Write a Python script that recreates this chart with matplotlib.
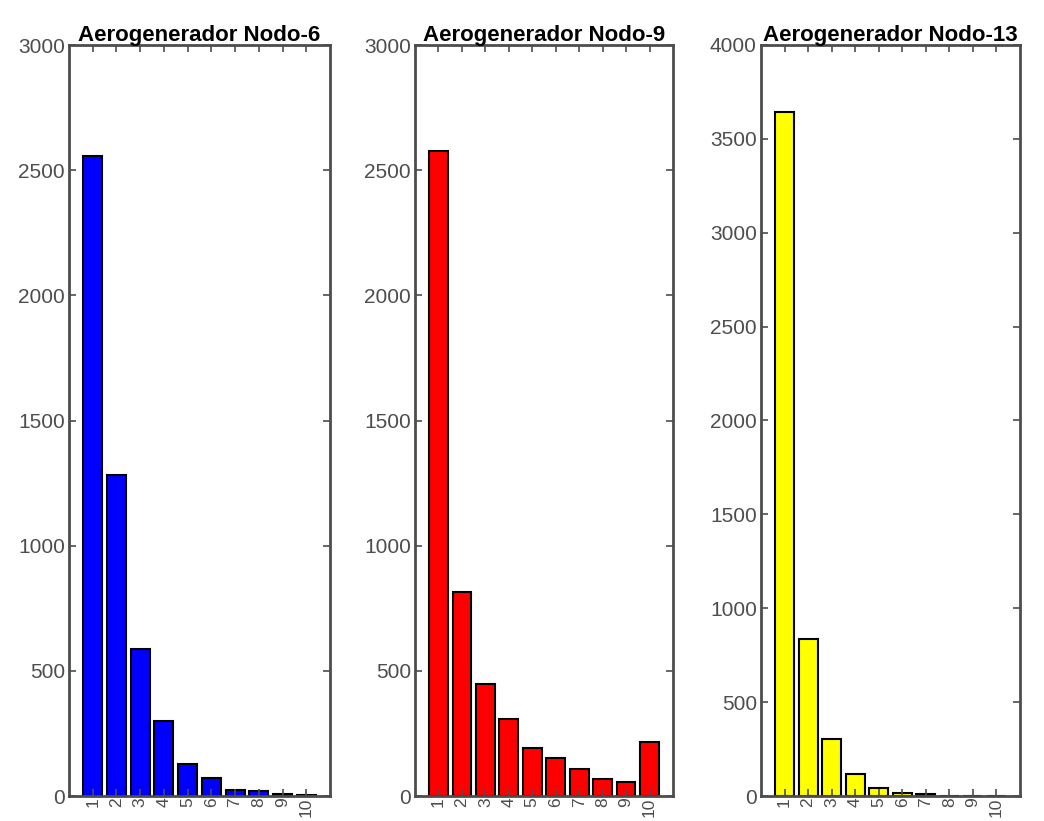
import numpy as np
import matplotlib.pyplot as plt

plt.rcParams['font.family'] = ['Liberation Sans', 'DejaVu Sans']

# valori
x = np.arange(1, 11)
nodo6 = [2556, 1284, 588, 300, 128, 72, 24, 18, 8, 2]
nodo9 = [2578, 816, 446, 306, 192, 152, 106, 68, 54, 214]
nodo13 = [3642, 836, 302, 116, 42, 16, 8, 2, 0, 0]

titoli = ['Aerogenerador Nodo-6', 'Aerogenerador Nodo-9', 'Aerogenerador Nodo-13']
colori = ['#0000ff', '#ff0000', '#ffff00']
ymax = [3000, 3000, 4000]
serie = [nodo6, nodo9, nodo13]

# posizioni degli assi in pixel (sx, dx)
lefts = [69, 415, 761]
rights = [330, 673, 1020]
W, H = 1044, 821

fig = plt.figure(figsize=(W / 100, H / 100), dpi=100)
grigio = '#4d4d4d'

for i in range(3):
    ax = fig.add_axes([lefts[i] / W, 1 - 796 / H, (rights[i] - lefts[i]) / W, 751 / H])
    ax.bar(x, serie[i], width=0.8, color=colori[i], edgecolor='black', linewidth=1.5)
    ax.set_xlim(0, 11)
    ax.set_ylim(0, ymax[i])
    ax.set_yticks(np.arange(0, ymax[i] + 1, 500))
    ax.set_xticks(x)
    ax.set_xticklabels([str(v) for v in x], rotation=90)
    ax.tick_params(direction='in', top=True, right=True, length=5, width=1.2,
                   colors=grigio, labelsize=15, pad=3)
    ax.tick_params(axis='x', labelsize=12.5, pad=1)
    for s in ax.spines.values():
        s.set_color(grigio)
        s.set_linewidth(2)
    ax.set_title(titoli[i], fontsize=16, fontweight='bold', pad=3)

plt.savefig('out.png', dpi=100)
